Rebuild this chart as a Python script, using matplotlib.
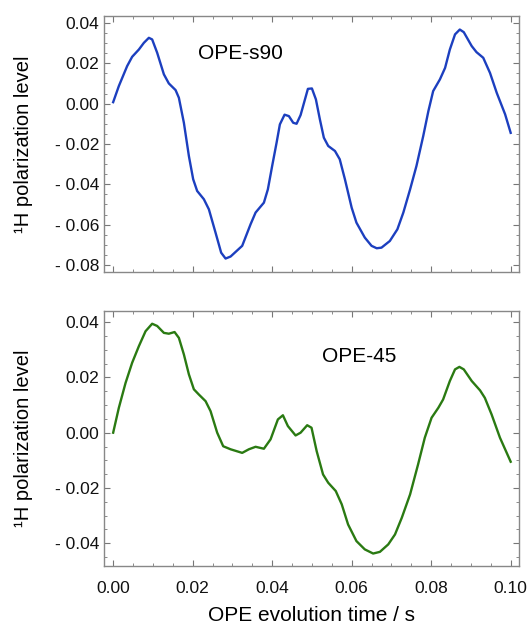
import matplotlib.pyplot as plt
from matplotlib.ticker import MultipleLocator, FixedLocator, FixedFormatter

plt.rcParams['font.family'] = ['Liberation Sans', 'DejaVu Sans']

# OPE-s90 (top panel)
t_s90 = [0.0, 0.00143, 0.00352, 0.00478, 0.00647, 0.00772, 0.00898, 0.00981, 0.01107,
         0.01276, 0.0140, 0.0157, 0.01653, 0.01779, 0.01905, 0.02013, 0.02113, 0.02282,
         0.02408, 0.02576, 0.02717, 0.02828, 0.02954, 0.03246, 0.03457, 0.03583, 0.03792,
         0.03892, 0.0400, 0.04111, 0.04194, 0.04312, 0.0442, 0.04529, 0.04614, 0.04715,
         0.04899, 0.0500, 0.0510, 0.0520, 0.0530, 0.0541, 0.0558, 0.0570, 0.0583, 0.0600,
         0.0612, 0.0633, 0.0650, 0.0663, 0.0675, 0.0696, 0.0715, 0.0730, 0.0747, 0.0763,
         0.0780, 0.0793, 0.0805, 0.0822, 0.0835, 0.0847, 0.0860, 0.0872, 0.0882, 0.0902,
         0.0914, 0.0931, 0.0948, 0.0965, 0.0986, 0.1000]
v_s90 = [0.0007, 0.0087, 0.0186, 0.0232, 0.0268, 0.0301, 0.0326, 0.0318, 0.0252,
         0.0145, 0.0100, 0.0067, 0.0029, -0.0095, -0.0260, -0.0375, -0.0433, -0.0474,
         -0.0524, -0.0640, -0.0739, -0.0768, -0.0758, -0.0705, -0.0598, -0.0540, -0.0491,
         -0.0425, -0.0309, -0.0194, -0.0103, -0.0055, -0.0062, -0.0095, -0.0100, -0.0057,
         0.0073, 0.0075, 0.0021, -0.0078, -0.0169, -0.0210, -0.0235, -0.0276, -0.0375, -0.0516,
         -0.0590, -0.0664, -0.0705, -0.0717, -0.0714, -0.0681, -0.0623, -0.0540, -0.0425, -0.0309,
         -0.0161, -0.0037, 0.0062, 0.0120, 0.0177, 0.0268, 0.0343, 0.0367, 0.0354, 0.0285,
         0.0255, 0.0227, 0.0152, 0.0053, -0.0053, -0.0145]

# OPE-45 (bottom panel)
t_45 = [0.0, 0.00143, 0.00312, 0.00478, 0.00647, 0.00815, 0.00981, 0.01107, 0.01276,
        0.0140, 0.01545, 0.01653, 0.01779, 0.01905, 0.0203, 0.02156, 0.02325, 0.0245,
        0.02617, 0.02768, 0.02954, 0.03246, 0.03414, 0.03583, 0.03792, 0.0396, 0.04144,
        0.0427, 0.04395, 0.04589, 0.04715, 0.04881, 0.0499, 0.0512, 0.0528, 0.0541,
        0.0560, 0.0575, 0.0591, 0.0612, 0.0633, 0.0654, 0.0671, 0.0692, 0.0709, 0.0726,
        0.0747, 0.0767, 0.0784, 0.0801, 0.0818, 0.0830, 0.0847, 0.0860, 0.0871, 0.0882,
        0.0902, 0.0923, 0.0935, 0.0952, 0.0973, 0.1000]
v_45 = [0.0, 0.0090, 0.0180, 0.0253, 0.0313, 0.0367, 0.0394, 0.0386, 0.0361,
        0.0358, 0.0364, 0.0343, 0.0283, 0.0211, 0.0157, 0.0138, 0.0114, 0.0078,
        0.0, -0.0049, -0.0060, -0.0073, -0.0060, -0.0051, -0.0058, -0.0024, 0.0048,
        0.0063, 0.0024, -0.0010, 0.0, 0.0027, 0.0018, -0.0067, -0.0151, -0.0181,
        -0.0211, -0.0259, -0.0332, -0.0392, -0.0422, -0.0437, -0.0431, -0.0404, -0.0368, -0.0308,
        -0.0223, -0.0115, -0.0018, 0.0054, 0.0090, 0.0120, 0.0187, 0.0229, 0.0238, 0.0229,
        0.0187, 0.0153, 0.0126, 0.0066, -0.0018, -0.0105]

x_ticks = [0.0, 0.02, 0.04, 0.06, 0.08, 0.10]
x_labels = ['0.00', '0.02', '0.04', '0.06', '0.08', '0.10']
y_ticks_top = [0.04, 0.02, 0.0, -0.02, -0.04, -0.06, -0.08]
y_labels_top = ['0.04', '0.02', '0.00', '- 0.02', '- 0.04', '- 0.06', '- 0.08']
y_ticks_bot = [0.04, 0.02, 0.0, -0.02, -0.04]
y_labels_bot = ['0.04', '0.02', '0.00', '- 0.02', '- 0.04']

fig = plt.figure(figsize=(5.28, 6.24), dpi=100)
ax1 = fig.add_axes([0.197, 0.564, 0.786, 0.410])
ax2 = fig.add_axes([0.197, 0.093, 0.786, 0.409])

ax1.plot(t_s90, v_s90, color='#1c3fbf', lw=1.7, solid_joinstyle='round')
ax2.plot(t_45, v_45, color='#2a7a12', lw=1.7, solid_joinstyle='round')

ax1.set_ylim(-0.0835, 0.0433)
ax2.set_ylim(-0.0482, 0.0441)

for ax, yt, yl in [(ax1, y_ticks_top, y_labels_top), (ax2, y_ticks_bot, y_labels_bot)]:
    ax.set_xlim(-0.0023, 0.1021)
    ax.xaxis.set_major_locator(FixedLocator(x_ticks))
    ax.xaxis.set_minor_locator(MultipleLocator(0.005))
    ax.yaxis.set_major_locator(FixedLocator(yt))
    ax.yaxis.set_major_formatter(FixedFormatter(yl))
    ax.yaxis.set_minor_locator(MultipleLocator(0.005))
    ax.tick_params(which='both', direction='in', top=True, right=True,
                   color='#777777', labelsize=12.5, labelcolor='#111111')
    ax.tick_params(which='major', length=4.5, width=0.8)
    ax.tick_params(which='minor', length=2.5, width=0.6)
    ax.tick_params(axis='x', pad=10.5)
    for s in ax.spines.values():
        s.set_color('#888888')
        s.set_linewidth(1.0)
    ax.set_ylabel('¹H polarization level', fontsize=14.5)
    ax.yaxis.set_label_coords(-0.171, 0.5)

ax1.tick_params(labelbottom=False)
ax2.xaxis.set_major_formatter(FixedFormatter(x_labels))
ax2.set_xlabel('OPE evolution time / s', fontsize=15, labelpad=7.5)

ax1.text(0.0213, 0.025, 'OPE-s90', fontsize=15, va='center', ha='left')
ax2.text(0.0525, 0.0275, 'OPE-45', fontsize=15, va='center', ha='left')

fig.savefig('out.png', dpi=100)
